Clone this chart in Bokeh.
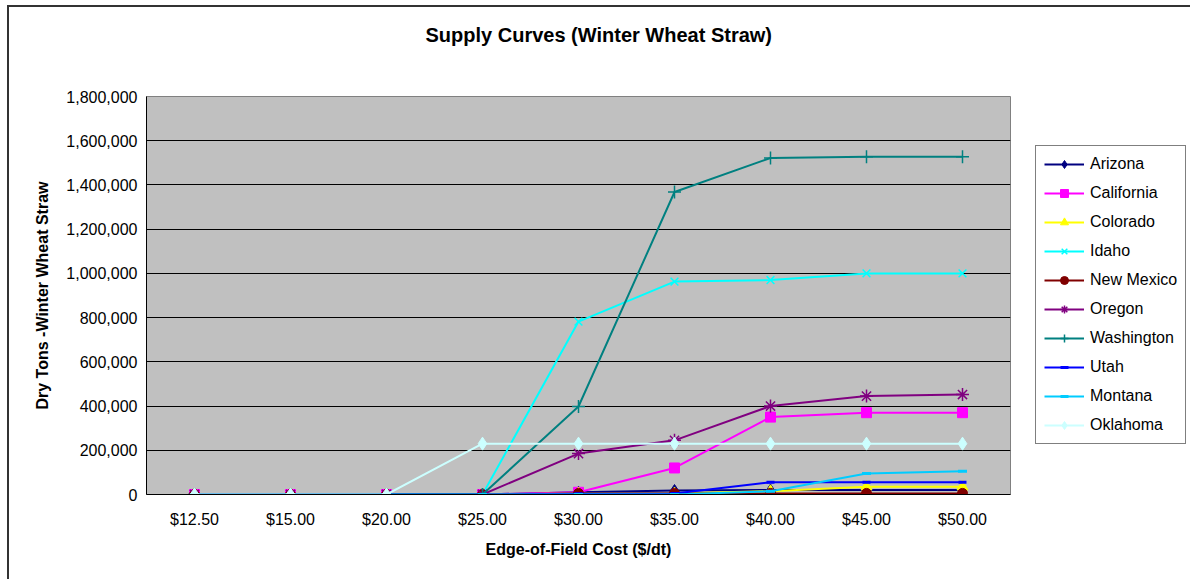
from bokeh.plotting import figure
from bokeh.models import Range1d, FixedTicker, NumeralTickFormatter, Legend, Title
from bokeh.embed import file_html
from bokeh.resources import INLINE

categories = ["$12.50", "$15.00", "$20.00", "$25.00", "$30.00", "$35.00", "$40.00", "$45.00", "$50.00"]

arizona    = [0, 0, 0, 0, 10000, 18000, 20000, 20000, 20000]
california = [0, 0, 0, 0, 10000, 120000, 350000, 370000, 370000]
colorado   = [0, 0, 0, 0, 5000, 5000, 15000, 35000, 35000]
idaho      = [0, 0, 0, 0, 782000, 963000, 970000, 1000000, 1000000]
new_mexico = [0, 0, 0, 0, 5000, 5000, 5000, 5000, 5000]
oregon     = [0, 0, 0, 0, 185000, 245000, 400000, 445000, 452000]
washington = [0, 0, 0, 0, 398000, 1368000, 1522000, 1528000, 1528000]
utah       = [0, 0, 0, 0, 3000, 5000, 55000, 55000, 55000]
montana    = [0, 0, 0, 0, 0, 0, 15000, 95000, 105000]
oklahoma   = [0, 0, 0, 230000, 230000, 230000, 230000, 230000, 230000]

series = [
    ("Arizona", arizona, "#000080", "diamond", 12),
    ("California", california, "#FF00FF", "square", 10),
    ("Colorado", colorado, "#FFFF00", "triangle", 11),
    ("Idaho", idaho, "#00FFFF", "x", 11),
    ("New Mexico", new_mexico, "#800000", "circle", 10),
    ("Oregon", oregon, "#800080", "asterisk", 13),
    ("Washington", washington, "#008080", "cross", 13),
    ("Utah", utah, "#0000FF", "dash", 8),
    ("Montana", montana, "#00CCFF", "dash", 9),
    ("Oklahoma", oklahoma, "#CCFFFF", "diamond", 13),
]

xs = [i + 0.5 for i in range(len(categories))]

p = figure(title=None, frame_width=864, frame_height=398, output_backend="svg", toolbar_location=None,
           x_range=Range1d(0, len(categories)), y_range=Range1d(0, 1800000),
           min_border_left=137, min_border_right=180, min_border_top=89, min_border_bottom=85)

p.styles = {"border-left": "2px solid #333333", "border-top": "2px solid #333333",
            "margin-left": "7px", "margin-top": "5px"}
p.background_fill_color = "#C0C0C0"
p.border_fill_color = "white"
p.outline_line_color = "#808080"

# spacer between frame and title (first added sits closest to the frame)
p.add_layout(Title(text=" ", text_font_size="10px", standoff=33), "above")
p.add_layout(Title(text="Supply Curves (Winter Wheat Straw)", align="left", offset=279, standoff=10,
                   text_font="Liberation Sans", text_font_size="20px", text_font_style="bold",
                   text_color="black"), "above")

p.xgrid.grid_line_color = None
p.ygrid.grid_line_color = "black"
p.ygrid.grid_line_width = 1

p.yaxis.ticker = FixedTicker(ticks=list(range(0, 1800001, 200000)))
p.yaxis.formatter = NumeralTickFormatter(format="0,0")
p.yaxis.axis_label = "Dry Tons -Winter Wheat Straw"
p.yaxis.major_tick_in = 0
p.yaxis.major_tick_out = 5
p.yaxis.major_label_standoff = 4

p.xaxis.ticker = FixedTicker(ticks=xs, minor_ticks=list(range(len(categories) + 1)))
p.xaxis.major_label_overrides = {x: c for x, c in zip(xs, categories)}
p.xaxis.axis_label = "Edge-of-Field Cost ($/dt)"
p.xaxis.minor_tick_in = 0
p.xaxis.minor_tick_out = 5
p.xaxis.major_label_standoff = 10
p.xaxis.axis_label_standoff = 10
p.yaxis.axis_label_standoff = 12

for ax in (p.xaxis, p.yaxis):
    ax.axis_line_color = "black"
    ax.major_tick_line_color = "black" if ax is p.yaxis else None
    ax.minor_tick_line_color = "black" if ax is p.xaxis else None
    ax.major_label_text_font = "Liberation Sans"
    ax.major_label_text_font_size = "16px"
    ax.major_label_text_color = "black"
    ax.axis_label_text_font = "Liberation Sans"
    ax.axis_label_text_font_size = "16px"
    ax.axis_label_text_font_style = "bold"
    ax.axis_label_text_color = "black"

items = []
for name, vals, color, marker, size in series:
    r1 = p.line(xs, vals, line_color=color, line_width=2)
    if marker == "dash":
        r2 = p.scatter(xs, vals, marker="dash", size=size, line_color=color, line_width=3)
    elif marker in ("x", "asterisk", "cross"):
        r2 = p.scatter(xs, vals, marker=marker, size=size, line_color=color, line_width=1.5)
    else:
        r2 = p.scatter(xs, vals, marker=marker, size=size, fill_color=color, line_color=color)
    items.append((name, [r1, r2]))

legend = Legend(items=items, location=(25, 50), orientation="vertical")
legend.label_text_font = "Liberation Sans"
legend.label_text_font_size = "16px"
legend.label_text_color = "black"
legend.glyph_width = 40
legend.glyph_height = 20
legend.label_height = 20
legend.label_standoff = 6
legend.spacing = 9
legend.padding = 8
legend.margin = 0
legend.border_line_color = "black"
legend.border_line_width = 1
legend.background_fill_color = "white"
legend.background_fill_alpha = 1
p.add_layout(legend, "right")

open("out.html", "w").write(file_html(p, INLINE))
